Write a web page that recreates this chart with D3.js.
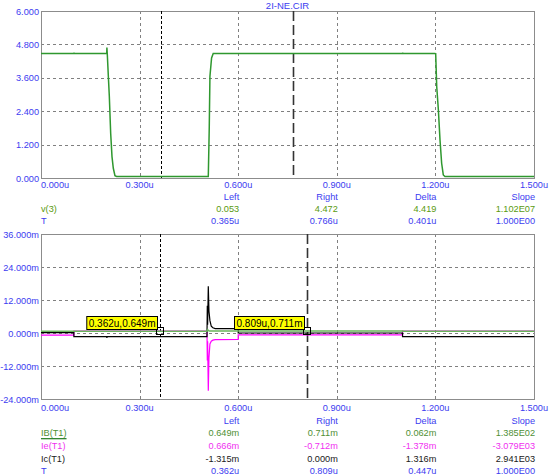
<!DOCTYPE html>
<html><head><meta charset="utf-8">
<script src="https://cdn.jsdelivr.net/npm/d3@7"></script>
<style>
html,body{margin:0;padding:0;background:#fff;}
svg text{font-family:"Liberation Sans",Arial,sans-serif;font-size:9.2px;}
</style></head>
<body>
<svg id="c" width="551" height="476"></svg>
<script>
// ---------- DATA ----------
const title = "2I-NE.CIR";
const xTicks = [0, 0.3, 0.6, 0.9, 1.2, 1.5];
const topYTicks = [0, 1.2, 2.4, 3.6, 4.8, 6.0];
const botYTicks = [-24, -12, 0, 12, 24, 36];

// v(3) trace (time in us, volts)
const v3T = [0,0.1,0.1005,0.101,0.2,0.2005,0.2018,0.2049,0.2079,0.212,0.216,0.220,0.225,0.230,0.509,0.512,0.514,0.519,0.524,1.1,1.1005,1.101,1.2,1.2008,1.204,1.209,1.214,1.219,1.224,1.229,1.5];
const v3V = [4.47,4.47,4.50,4.47,4.47,4.69,4.43,3.65,2.93,1.61,0.77,0.35,0.08,0.053,0.053,1.85,3.65,4.31,4.47,4.47,4.50,4.47,4.47,4.49,3.29,2.45,1.37,0.53,0.11,0.053,0.053];

// currents (time in us, mA)
const ibT = [0,0.1,0.1,0.505,0.507,0.509,0.512,0.6,1.1,1.1,1.2,1.2,1.5];
const ibV = [0.62,0.62,0.649,0.649,1.2,0.9,0.711,0.711,0.711,0.66,0.66,0.62,0.62];
const ieT = [0,0.1,0.1,0.505,0.506,0.507,0.508,0.509,0.511,0.514,0.518,0.523,0.53,0.6,0.6,1.1,1.1,1.5];
const ieV = [-0.77,-0.77,0.666,0.666,-10,-3,-12,-21,-9,-4,-3,-2.6,-2.4,-2.3,-0.712,-0.712,0.65,0.65];
const icT = [0,0.1,0.1,0.2,0.2005,0.201,0.505,0.506,0.507,0.508,0.509,0.511,0.514,0.518,0.523,0.53,0.6,0.6,1.1,1.1,1.5];
const icV = [0.15,0.15,-1.315,-1.315,-1.8,-1.315,-1.315,9.9,3,9.9,17,8,4.5,2.5,1.9,1.6,1.6,0,0,-1.3,-1.3];

// cursors
const topCursors = [0.365, 0.766];
const botCursors = [0.362, 0.809];
const botCursorVals = [0.649, 0.711];
const botCursorLabels = ["0.362u,0.649m", "0.809u,0.711m"];

// readout tables
const headers = ["Left","Right","Delta","Slope"];
const topRows = [
  {name:"v(3)", vals:["0.053","4.472","4.419","1.102E07"], key:"v3"},
  {name:"T", vals:["0.365u","0.766u","0.401u","1.000E00"], key:"t"}
];
const botRows = [
  {name:"IB(T1)", vals:["0.649m","0.711m","0.062m","1.385E02"], key:"ib"},
  {name:"Ie(T1)", vals:["0.666m","-0.712m","-1.378m","-3.079E03"], key:"ie"},
  {name:"Ic(T1)", vals:["-1.315m","0.000m","1.316m","2.941E03"], key:"ic"},
  {name:"T", vals:["0.362u","0.809u","0.447u","1.000E00"], key:"t"}
];

// ---------- STYLE ----------
const BLUE = "#3c3cf0";
const textColor = {v3:"#5a9a10", t:BLUE, ib:"#4f8f35", ie:"#f030f0", ic:"#202020"};
const traceColor = {v3:"#2f982f", ib:"#68b45a", ie:"#ff00ff", ic:"#000000"};

const svg = d3.select("#c");
const L = 41, R = 534;
const x = d3.scaleLinear().domain([0,1.5]).range([L,R]);
const yTop = d3.scaleLinear().domain([0,6]).range([178,11]);
const yBot = d3.scaleLinear().domain([-24,36]).range([399,234]);
const fmtX = d => d.toFixed(3) + "u";

function panel(y, yTicks, fmtY, cursors, cursorTop, cursorBot, xLabelY){
  const g = svg.append("g");
  const inner = xTicks.slice(1,-1);
  g.selectAll(".gx").data(inner).join("line")
    .attr("x1",d=>Math.round(x(d))+0.5).attr("x2",d=>Math.round(x(d))+0.5)
    .attr("y1",y.range()[1]).attr("y2",y.range()[0])
    .attr("stroke","#808080").attr("stroke-dasharray","3,3");
  g.selectAll(".gy").data(yTicks.slice(1,-1)).join("line")
    .attr("x1",L).attr("x2",R)
    .attr("y1",d=>Math.round(y(d))+0.5).attr("y2",d=>Math.round(y(d))+0.5)
    .attr("stroke","#808080").attr("stroke-dasharray","3,3");
  g.append("rect").attr("x",L+0.5).attr("y",y.range()[1]+0.5)
    .attr("width",R-L).attr("height",y.range()[0]-y.range()[1])
    .attr("fill","none").attr("stroke","#8c8c8c");
  g.selectAll(".yl").data(yTicks).join("text")
    .attr("x",39).attr("y",d=>y(d)+3.5).attr("text-anchor","end")
    .attr("fill",BLUE).text(fmtY);
  g.selectAll(".xl").data(xTicks).join("text")
    .attr("x",(d,i)=> i===0 ? L : x(d)).attr("y",xLabelY)
    .attr("text-anchor",(d,i)=> i===0 ? "start" : "middle")
    .attr("fill",BLUE).text(fmtX);
  g.append("line").attr("x1",Math.round(x(cursors[0]))+0.5).attr("x2",Math.round(x(cursors[0]))+0.5)
    .attr("y1",cursorTop).attr("y2",cursorBot).attr("stroke","#000").attr("stroke-dasharray","3,2");
  g.append("line").attr("x1",Math.round(x(cursors[1]))+0.5).attr("x2",Math.round(x(cursors[1]))+0.5)
    .attr("y1",cursorTop).attr("y2",cursorBot).attr("stroke","#333").attr("stroke-width",1.6).attr("stroke-dasharray","10,4");
  return g;
}

svg.append("text").attr("x",(L+R)/2).attr("y",9).attr("text-anchor","middle").attr("fill",BLUE)
  .style("font-size","9.5px").text(title);

const gTop = panel(yTop, topYTicks, d=>d.toFixed(3), topCursors, 11, 178, 188);
const gBot = panel(yBot, botYTicks, d=>d.toFixed(3)+"m", botCursors, 234, 399, 411);

function trace(g, y, T, V, color, w){
  const pts = T.map((t,i)=>[t,V[i]]);
  g.append("path").datum(pts)
    .attr("d", d3.line().x(d=>x(d[0])).y(d=>y(d[1])))
    .attr("fill","none").attr("stroke",color).attr("stroke-width",w);
}
trace(gTop, yTop, v3T, v3V, traceColor.v3, 1.5);
trace(gBot, yBot, ieT, ieV, traceColor.ie, 1.2);
trace(gBot, yBot, icT, icV, traceColor.ic, 1.2);
trace(gBot, yBot, ibT, ibV, traceColor.ib, 1.5);

botCursors.forEach((c,i)=>{
  const cx = x(c), cy = yBot(botCursorVals[i]);
  gBot.append("rect").attr("x",Math.round(cx)-3.5).attr("y",Math.round(cy)-3.5)
    .attr("width",7).attr("height",7).attr("fill","none").attr("stroke","#000");
  const t = gBot.append("text").attr("fill","#000").style("font-size","10px").text(botCursorLabels[i]);
  const w = t.node().getComputedTextLength();
  const bx = Math.round(cx) - 3 - w - 4, by = Math.round(cy) - 15;
  gBot.append("rect").attr("x",bx+0.5).attr("y",by+0.5)
    .attr("width",w+4).attr("height",13).attr("fill","#ffff00").attr("stroke","#000");
  t.attr("x",bx+2.5).attr("y",by+10.5);
  t.raise();
});

const colX = xTicks.slice(2);
function table(rows, y0, dy){
  svg.selectAll(null).data(headers).join("text")
    .attr("x",(d,i)=>x(colX[i])+1).attr("y",y0).attr("text-anchor","end")
    .attr("fill",BLUE).text(d=>d);
  rows.forEach((r,ri)=>{
    const yy = y0 + dy*(ri+1);
    const lab = svg.append("text").attr("x",L).attr("y",yy).attr("fill",textColor[r.key]).text(r.name);
    if(r.key==="ib"){
      const w = lab.node().getComputedTextLength();
      svg.append("line").attr("x1",L).attr("x2",L+w).attr("y1",yy+2.5).attr("y2",yy+2.5)
        .attr("stroke","#1c7a1c").attr("stroke-width",1.2);
    }
    svg.selectAll(null).data(r.vals).join("text")
      .attr("x",(d,i)=>x(colX[i])+1).attr("y",yy).attr("text-anchor","end")
      .attr("fill",textColor[r.key]).text(d=>d);
  });
}
table(topRows, 200, 12);
table(botRows, 423.5, 12.7);
</script>
</body></html>
